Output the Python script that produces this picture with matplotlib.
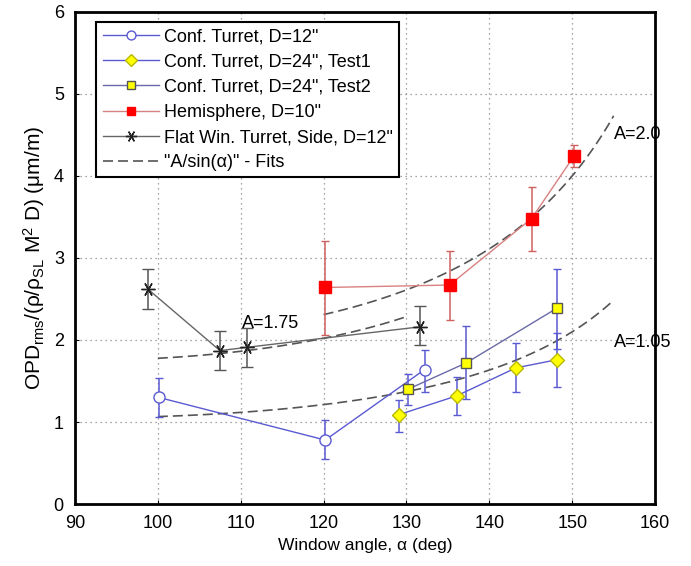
import numpy as np
import matplotlib
matplotlib.use('Agg')
import matplotlib.pyplot as plt
from matplotlib.lines import Line2D

plt.rcParams['font.family'] = ['Liberation Sans', 'DejaVu Sans']
plt.rcParams['mathtext.fontset'] = 'custom'
plt.rcParams['mathtext.rm'] = 'Liberation Sans'
plt.rcParams['mathtext.it'] = 'Liberation Sans'

# ~~~~~~~~~~~~~~~~~~~~~~~~~~~~~~~~~~~~~~~~~~~~~~~~~~~~~~~~~~~~~~~~~~~~~~~~~~~~~
# data

# Conf. Turret, D=12"
ct12_x = [100.1, 120.2, 132.2]
ct12_y = [1.30, 0.78, 1.64]
ct12_lo = [1.06, 0.55, 1.37]
ct12_hi = [1.54, 1.02, 1.88]

# Conf. Turret, D=24", Test1
ct24a_x = [129.1, 136.1, 143.2, 148.2]
ct24a_y = [1.09, 1.32, 1.66, 1.76]
ct24a_lo = [0.88, 1.09, 1.36, 1.43]
ct24a_hi = [1.27, 1.55, 1.96, 2.08]

# Conf. Turret, D=24", Test2
ct24b_x = [130.2, 137.2, 148.2]
ct24b_y = [1.40, 1.72, 2.39]
ct24b_lo = [1.21, 1.28, 1.89]
ct24b_hi = [1.59, 2.17, 2.87]

# Hemisphere, D=10"
hemi_x = [120.2, 135.2, 145.1, 150.2]
hemi_y = [2.64, 2.67, 3.48, 4.24]
hemi_lo = [2.06, 2.24, 3.08, 4.11]
hemi_hi = [3.21, 3.09, 3.87, 4.38]

# Flat Win. Turret, Side, D=12"
flat_x = [98.8, 107.5, 110.7, 131.6]
flat_y = [2.62, 1.87, 1.91, 2.16]
flat_lo = [2.38, 1.63, 1.67, 1.94]
flat_hi = [2.86, 2.11, 2.14, 2.41]

# "A/sin(alpha)" fits: coefficient and angle range
fit_A = [1.75, 1.05, 2.0]
fit_start = [100, 100, 120]
fit_end = [130, 155, 155]
fit_labels = ['A=1.75', 'A=1.05', 'A=2.0']
fit_label_pos = [(110.2, 2.2), (155.1, 1.97), (155.1, 4.5)]

series_labels = ['Conf. Turret, D=12"', 'Conf. Turret, D=24", Test1',
                 'Conf. Turret, D=24", Test2', 'Hemisphere, D=10"',
                 'Flat Win. Turret, Side, D=12"', '"A/sin(α)" - Fits']

# ~~~~~~~~~~~~~~~~~~~~~~~~~~~~~~~~~~~~~~~~~~~~~~~~~~~~~~~~~~~~~~~~~~~~~~~~~~~~~

def errs(y, lo, hi):
    y = np.array(y)
    return [y - np.array(lo), np.array(hi) - y]


blue = '#5a5ad2'
star = (6, 2, 90)
styles = [
    dict(color=blue, marker='o', ms=8, mfc='white', mec=blue, mew=1),
    dict(color=blue, marker='D', ms=7.5, mfc='#ffff00', mec='#b8b800', mew=1),
    dict(color='#6a6aa8', marker='s', ms=7.5, mfc='#ffff00', mec='#555555', mew=1),
    dict(color='#d98080', marker='s', ms=8, mfc='#ff0000', mec='#ff0000', mew=1),
    dict(color='#666666', marker=star, ms=10, mec='#222222', mew=1),
]
ecolors = [blue, blue, blue, '#d06060', '#555555']
capsizes = [3, 3, 3, 3, 4]

xs = [ct12_x, ct24a_x, ct24b_x, hemi_x, flat_x]
ys = [ct12_y, ct24a_y, ct24b_y, hemi_y, flat_y]
los = [ct12_lo, ct24a_lo, ct24b_lo, hemi_lo, flat_lo]
his = [ct12_hi, ct24a_hi, ct24b_hi, hemi_hi, flat_hi]

fig = plt.figure(figsize=(6.91, 5.66), dpi=100)
ax = fig.add_axes([0.1085, 0.1095, 0.8395, 0.8695])

for i in range(5):
    ax.errorbar(xs[i], ys[i], yerr=errs(ys[i], los[i], his[i]), lw=1,
                ecolor=ecolors[i], capsize=capsizes[i], elinewidth=1.1,
                zorder=4, **styles[i])

fit_style = dict(color='#555555', ls=(0, (6, 3)), lw=1.2)
for i, A in enumerate(fit_A):
    a = np.linspace(fit_start[i], fit_end[i], 100)
    ax.plot(a, A / np.sin(np.radians(a)), zorder=3, **fit_style)
    ax.text(fit_label_pos[i][0], fit_label_pos[i][1], fit_labels[i], fontsize=13,
            ha='left', va='center', zorder=5)

ax.set_xlim(90, 160)
ax.set_ylim(0, 6)
ax.set_xticks(np.arange(90, 161, 10))
ax.set_yticks(np.arange(0, 7, 1))
ax.grid(True, ls=(0, (1, 3)), color='#888888', lw=0.9)
ax.tick_params(direction='in', labelsize=13, length=3, pad=8)
for s in ax.spines.values():
    s.set_linewidth(2)

ax.set_xlabel('Window angle, α (deg)', fontsize=12.5)
ax.set_ylabel('OPD$_{\\mathrm{rms}}$/(ρ/ρ$_{\\mathrm{SL}}$ M$^2$ D) (μm/m)',
              fontsize=15, labelpad=5)

handles = [Line2D([], [], lw=1, **st) for st in styles]
for h in handles:
    h.set_markersize(h.get_markersize() * 0.8)
handles.append(Line2D([], [], **fit_style))

leg = ax.legend(handles, series_labels, loc='upper left', bbox_to_anchor=(0.037, 0.979),
                fontsize=13, frameon=True, fancybox=False, edgecolor='black',
                framealpha=1, handlelength=3.1, labelspacing=0.45, borderpad=0.35,
                borderaxespad=0, handletextpad=0.3)
leg.get_frame().set_linewidth(1.5)

plt.savefig('out.png', dpi=100)
